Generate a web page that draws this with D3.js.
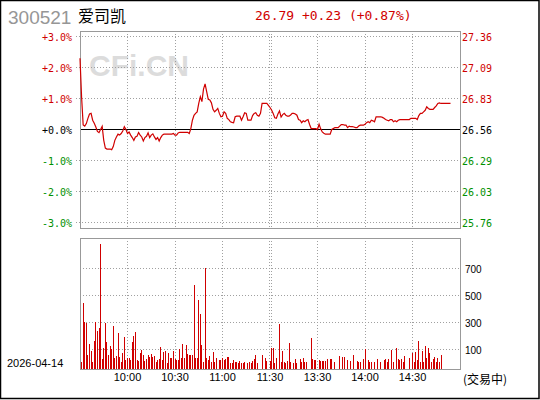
<!DOCTYPE html>
<head>
  <meta charset="utf-8">
  <script src="https://d3js.org/d3.v7.min.js"></script>
  <style>
    body { margin:0; background:#fff; }
    svg { display:block; }
    .grid { stroke:#a0a0a0; stroke-dasharray:1,2; shape-rendering:crispEdges; }
    .frame { fill:none; stroke:#999; shape-rendering:crispEdges; }
    .mono { font-family:"DejaVu Sans Mono", monospace; font-size:10px; }
    .sans { font-family:"Liberation Sans", Arial, sans-serif; }
  </style>
</head>
<body>
<div class="chart"></div>
<script>
// header info
const stockCode = '300521';
const stockName = '爱司凯';
const lastPrice = 26.79, change = 0.23, changePct = 0.87;
const prevClose = 26.56;
const tradeDate = '2026-04-14';
const statusText = '(交易中)';

// axes
const pctTicks = [3, 2, 1, 0, -1, -2, -3];
const timeLabels = ['10:00', '10:30', '11:00', '11:30', '13:30', '14:00', '14:30'];
const volTicks = [100, 300, 500, 700];

// one value per minute from 9:30 (% change vs prev close)
const pctSeries = [
  2.30, 1.05, 0.15, 0.11, 0.19, 0.36, 0.50, 0.52, 0.30, 0.20,
  0.08, -0.06, -0.10, 0.00, 0.10, -0.35, -0.60, -0.63, -0.63, -0.63,
  -0.65, -0.55, -0.35, -0.24, -0.15, -0.18, -0.13, -0.05, 0.09, 0.00,
  -0.13, -0.08, -0.18, -0.26, -0.35, -0.24, -0.22, -0.10, -0.18, -0.24,
  -0.37, -0.26, -0.22, -0.11, -0.26, -0.18, -0.14, -0.24, -0.32, -0.26,
  -0.37, -0.26, -0.18, -0.15, -0.15, -0.15, -0.15, -0.15, -0.15, -0.13,
  -0.18, -0.18, -0.11, -0.09, -0.09, -0.09, -0.09, -0.09, -0.09, -0.13,
  0.03, 0.30, 0.46, 0.52, 0.57, 0.84, 1.06, 0.90, 1.30, 1.47,
  1.22, 0.97, 0.95, 0.86, 0.65, 0.57, 0.62, 0.68, 0.52, 0.41,
  0.43, 0.57, 0.52, 0.36, 0.32, 0.25, 0.23, 0.22, 0.41, 0.43,
  0.43, 0.43, 0.30, 0.41, 0.54, 0.52, 0.30, 0.30, 0.30, 0.45,
  0.52, 0.54, 0.46, 0.43, 0.52, 0.84, 0.84, 0.84, 0.84, 0.78,
  0.71, 0.63, 0.52, 0.38, 0.36, 0.50, 0.60, 0.40, 0.48, 0.52,
  0.46, 0.43, 0.43, 0.47, 0.52, 0.52, 0.50, 0.46, 0.32, 0.30,
  0.22, 0.28, 0.25, 0.30, 0.32, 0.16, 0.03, 0.03, 0.03, 0.03,
  0.00, 0.17, 0.02, -0.08, -0.12, -0.15, -0.15, -0.15, -0.15, 0.00,
  0.03, 0.06, 0.06, 0.06, 0.11, 0.16, 0.16, 0.14, 0.14, 0.06,
  0.11, 0.09, 0.09, 0.08, 0.06, 0.06, 0.11, 0.14, 0.14, 0.14,
  0.17, 0.22, 0.25, 0.22, 0.30, 0.28, 0.25, 0.41, 0.41, 0.41,
  0.41, 0.39, 0.36, 0.32, 0.30, 0.28, 0.32, 0.32, 0.25, 0.28,
  0.25, 0.30, 0.32, 0.32, 0.32, 0.32, 0.32, 0.32, 0.32, 0.36,
  0.36, 0.36, 0.36, 0.32, 0.45, 0.52, 0.52, 0.57, 0.62, 0.73,
  0.68, 0.65, 0.65, 0.65, 0.71, 0.76, 0.84, 0.86, 0.84, 0.84,
  0.84, 0.84, 0.84, 0.84, 0.84
];

// volume per minute (null = no trade)
const volSeries = [
  null, 5, 443, 302, 295, 58, 139, 87, 8, 161,
  302, 235, 258, 880, 28, 110, 297, 154, 58, 124,
  105, 272, 36, 50, 220, 43, 8, 73, 191, 21,
  36, 36, 21, 154, 198, 228, 21, 15, 73, 95,
  58, 13, 28, 58, 43, 65, 43, 50, 5, 21,
  28, 117, 21, 80, 87, 1, 73, 36, 36, 87,
  28, 21, 21, 102, 36, 139, 36, 132, 65, 58,
  58, 58, 576, 36, 36, 465, 362, 132, 5, 702,
  36, 21, 50, 5, 80, 5, 36, null, 21, 21,
  36, 21, 28, 43, 43, 2, 2, 21, 5, 5,
  2, 13, 2, 2, 5, null, 2, 5, 2, 13,
  28, 58, 2, null, null, 58, null, 36, 13, null,
  13, 110, 110, 1, 36, null, 289, 5, 87, 5,
  1, 13, 149, 5, null, 1, 28, 1, null, 28,
  5, 36, 5, 5, null, null, 184, 28, 21, 21,
  null, 21, 13, 13, 13, 13, 28, null, 28, 28,
  null, 5, null, null, 50, null, 43, 43, null, 21,
  null, 13, null, 58, null, 13, 5, 5, null, 28,
  102, null, 21, 5, 5, null, 5, null, 28, null,
  5, null, 21, 28, 5, 28, null, 95, 5, null,
  110, 28, 21, 28, 5, 50, null, null, 36, null,
  75, 5, 80, 21, 161, 5, 87, 5, 124, 36,
  110, 73, 5, 28, 43, 5, 36, 5, 58
];

const RED = '#d00000', GREEN = '#009000';

// minutes since open, lunch break removed
function minuteIndex(t) {
  const [h, m] = t.split(':').map(Number);
  const mins = h * 60 + m;
  return mins >= 780 ? 120 + (mins - 780) : mins - 570;
}

const W = 540, H = 400;
const box = { left: 80, right: 460, top: 31, bottom: 228 };
const vbox = { top: 238, bottom: 369 };

const svg = d3.select('.chart').append('svg')
  .attr('width', W).attr('height', H);

const x = d3.scaleLinear().domain([0, 240]).range([box.left, box.right]);
const yPct = d3.scaleLinear().domain([-3, 3]).range([222.5, 36.5]);
const yVol = d3.scaleLinear().domain([100, 700]).range([349.5, 268.5]);

const px = v => Math.floor(v) + 0.5;
const colorOf = p => p > 0 ? RED : p < 0 ? GREEN : '#000';

// outer frame
svg.append('rect')
  .attr('x', 0.5).attr('y', 0.5).attr('width', 538.5).attr('height', 398)
  .attr('fill', 'none').attr('stroke', '#000').attr('stroke-width', 1.5);

// header
svg.append('text').attr('class', 'sans')
  .attr('x', 8).attr('y', 24).attr('font-size', 19).attr('fill', '#969696')
  .text(stockCode);
svg.append('text')
  .attr('x', 78).attr('y', 22).attr('font-size', 16)
  .attr('font-family', '"Noto Sans CJK SC", sans-serif').attr('fill', '#000')
  .text(stockName);
svg.append('text')
  .attr('x', 255).attr('y', 20).attr('font-size', 13)
  .attr('font-family', '"DejaVu Sans Mono", monospace').attr('fill', RED)
  .text(`${lastPrice.toFixed(2)} +${change.toFixed(2)} (+${changePct.toFixed(2)}%)`);

// watermark
svg.append('text').attr('class', 'sans')
  .attr('x', 89).attr('y', 76).attr('font-size', 30).attr('font-weight', 'bold')
  .attr('fill', '#dcdcdc')
  .text('CFi.CN');

// vertical grid every 30 minutes, doubled at the lunch break
const vLines = d3.range(30, 240, 30);
const gv = svg.append('g');
vLines.forEach(m => {
  const xs = m === 120 ? [x(m) - 1, x(m) + 1] : [x(m)];
  xs.forEach(xx => {
    gv.append('line').attr('class', 'grid')
      .attr('x1', px(xx)).attr('x2', px(xx)).attr('y1', box.top).attr('y2', box.bottom);
    gv.append('line').attr('class', 'grid')
      .attr('x1', px(xx)).attr('x2', px(xx)).attr('y1', vbox.top).attr('y2', vbox.bottom);
  });
});

// horizontal price grid + labels
pctTicks.forEach(p => {
  const yy = px(yPct(p));
  if (p === 0) {
    svg.append('line').attr('x1', box.left).attr('x2', box.right + 1)
      .attr('y1', yy).attr('y2', yy).attr('stroke', '#000')
      .attr('shape-rendering', 'crispEdges');
  } else {
    svg.append('line').attr('class', 'grid')
      .attr('x1', 76).attr('x2', box.right).attr('y1', yy).attr('y2', yy);
  }
  svg.append('text').attr('class', 'mono')
    .attr('x', 72).attr('y', yy + 4).attr('text-anchor', 'end')
    .attr('fill', colorOf(p))
    .text((p >= 0 ? '+' : '') + p.toFixed(1) + '%');
  svg.append('text').attr('class', 'mono')
    .attr('x', 462).attr('y', yy + 4)
    .attr('fill', colorOf(p))
    .text((prevClose * (1 + p / 100)).toFixed(2));
});

// volume grid + labels
volTicks.forEach(v => {
  const yy = px(yVol(v));
  svg.append('line').attr('class', 'grid')
    .attr('x1', box.left).attr('x2', box.right).attr('y1', yy).attr('y2', yy);
  svg.append('text').attr('class', 'sans')
    .attr('x', 465).attr('y', yy + 4).attr('font-size', 10).attr('fill', '#000')
    .text(v);
});

// boxes
svg.append('rect').attr('class', 'frame')
  .attr('x', box.left + 0.5).attr('y', box.top + 0.5)
  .attr('width', box.right - box.left).attr('height', box.bottom - box.top);
svg.append('rect').attr('class', 'frame')
  .attr('x', box.left + 0.5).attr('y', vbox.top + 0.5)
  .attr('width', box.right - box.left).attr('height', vbox.bottom - vbox.top);

// volume bars
svg.append('g').selectAll('rect')
  .data(volSeries.map((v, i) => ({ i, v })).filter(d => d.v != null))
  .enter().append('rect')
  .attr('x', d => Math.floor(x(d.i)))
  .attr('width', 1)
  .attr('y', d => Math.round(yVol(d.v)))
  .attr('height', d => vbox.bottom - Math.round(yVol(d.v)))
  .attr('fill', RED)
  .attr('shape-rendering', 'crispEdges');

// price line
const line = d3.line()
  .x((d, i) => x(i))
  .y(d => yPct(d));
svg.append('path')
  .datum(pctSeries)
  .attr('d', line)
  .attr('fill', 'none')
  .attr('stroke', RED)
  .attr('stroke-width', 1.2);

// time labels
timeLabels.forEach(t => {
  svg.append('text').attr('class', 'sans')
    .attr('x', x(minuteIndex(t))).attr('y', 381)
    .attr('text-anchor', 'middle').attr('font-size', 11).attr('fill', '#000')
    .text(t);
});

svg.append('text').attr('class', 'sans')
  .attr('x', 7).attr('y', 367).attr('font-size', 11).attr('fill', '#000')
  .text(tradeDate);

svg.append('text')
  .attr('x', 463).attr('y', 384).attr('font-size', 12)
  .attr('font-family', '"Noto Sans CJK SC", sans-serif').attr('fill', '#000')
  .text(statusText);
</script>
</body>
